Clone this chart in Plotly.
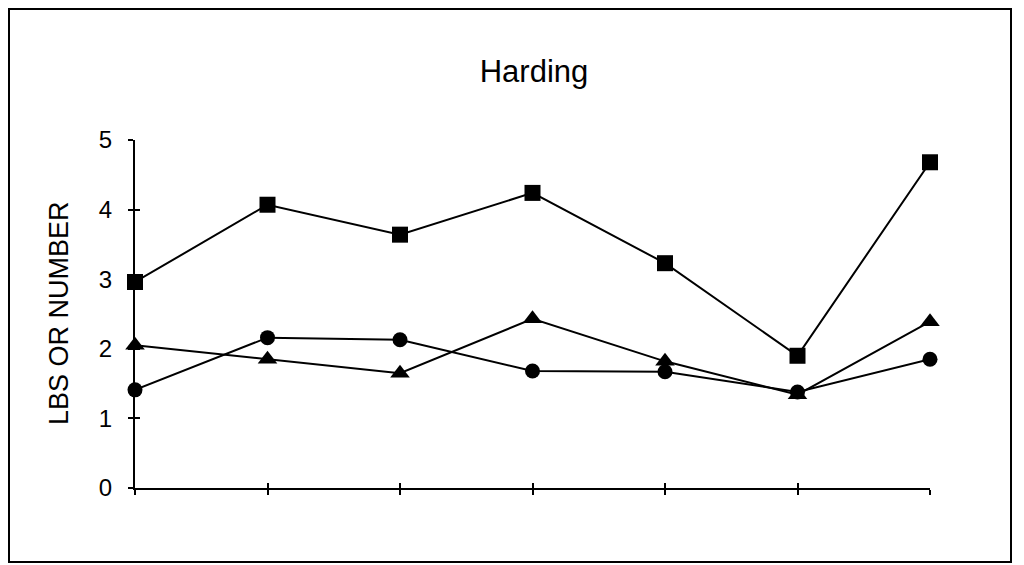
import plotly.graph_objects as go

x_pos = [0, 1, 2, 3, 4, 5, 6]
squares = [2.96, 4.07, 3.64, 4.24, 3.23, 1.90, 4.68]
triangles = [2.05, 1.85, 1.65, 2.43, 1.82, 1.34, 2.39]
circles = [1.41, 2.16, 2.13, 1.68, 1.67, 1.38, 1.85]
y_ticks = [0, 1, 2, 3, 4, 5]

fig = go.Figure()
for vals, sym, sz in [(squares, "square", 16), (triangles, "triangle-up", 17), (circles, "circle", 15)]:
    fig.add_trace(go.Scatter(x=x_pos, y=vals, mode="lines+markers",
                             line=dict(color="black", width=2),
                             marker=dict(symbol=sym, size=sz, color="black"),
                             cliponaxis=False, showlegend=False))

# body margin of 8px shifts everything; positions below are in figure coordinates
L, R, T, B = 127, 102, 132, 85
W, H = 1024, 565
pw, ph = W - L - R, H - T - B
axis_common = dict(showgrid=False, zeroline=False, tickcolor="black", tickwidth=1.5, ticklen=5)
fig.update_layout(
    width=W, height=H,
    margin=dict(l=L, r=R, t=T, b=B),
    paper_bgcolor="white", plot_bgcolor="white",
    font=dict(family="Liberation Sans, Arial", color="black"),
    title=dict(text="Harding", x=526 / W, xanchor="center", y=1 - 63 / H, yanchor="middle",
               font=dict(size=31)),
    xaxis=dict(range=[0, 6], showline=True, linecolor="black", linewidth=2,
               tickvals=x_pos, ticktext=[""] * 7, ticks="outside", **axis_common),
    yaxis=dict(range=[0, 5], showline=True, linecolor="black", linewidth=2,
               tickvals=y_ticks, ticks="outside", tickfont=dict(size=24),
               ticklabelstandoff=11, **axis_common),
    xaxis2=dict(range=[0, 6], overlaying="x", matches="x", showline=False, tickvals=x_pos,
                ticktext=[""] * 7, ticks="inside", showticklabels=False, **axis_common),
    yaxis2=dict(range=[0, 5], overlaying="y", matches="y", showline=False, tickvals=y_ticks,
                ticks="inside", showticklabels=False, **axis_common),
    annotations=[dict(text="LBS OR NUMBER", textangle=-90, xref="paper", yref="paper",
                      x=(51 - L) / pw, y=(480 - 305) / ph, xanchor="center", yanchor="middle",
                      showarrow=False, font=dict(size=27))],
    shapes=[dict(type="rect", xref="paper", yref="paper",
                 x0=(1 - L) / pw, x1=(1003 - L) / pw,
                 y0=(H - B - 554) / ph, y1=(H - B - 1) / ph,
                 line=dict(color="black", width=2))],
)
# invisible trace to activate the secondary axes carrying inward ticks
fig.add_trace(go.Scatter(x=[0], y=[0], xaxis="x2", yaxis="y2", mode="markers",
                         marker=dict(opacity=0), showlegend=False, hoverinfo="skip"))
fig.write_html("out.html")
